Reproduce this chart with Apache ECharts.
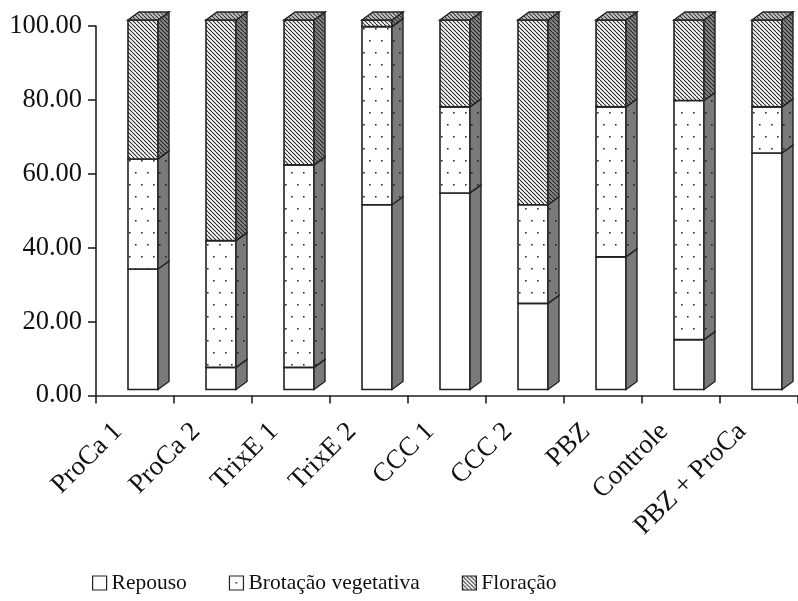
<!DOCTYPE html>
<html>
<head>
<meta charset="utf-8">
<script src="https://cdn.jsdelivr.net/npm/echarts@6/dist/echarts.min.js"></script>
<style>html,body{margin:0;padding:0;background:#fff;}#c{width:798px;height:601px;}</style>
</head>
<body>
<div id="c"></div>
<script>
const categories = ['ProCa 1','ProCa 2','TrixE 1','TrixE 2','CCC 1','CCC 2','PBZ','Controle','PBZ + ProCa'];
const repouso  = [32.6, 6.0, 6.0, 50.0, 53.2, 23.3, 35.9, 13.5, 64.0];
const brotacao = [29.8, 34.3, 54.8, 48.2, 23.3, 26.7, 40.6, 64.7, 12.5];
const floracao = [37.6, 59.7, 39.2, 1.8, 23.5, 50.0, 23.5, 21.8, 23.5];
const seriesNames = ['Repouso', 'Brotação vegetativa', 'Floração'];
const yTicks = [0, 20, 40, 60, 80, 100];

const FONT = 'Liberation Serif';

function makePattern(w, h, bg, draw) {
  const c = document.createElement('canvas');
  c.width = w; c.height = h;
  const ctx = c.getContext('2d');
  ctx.fillStyle = bg; ctx.fillRect(0, 0, w, h);
  draw(ctx);
  return { image: c, repeat: 'repeat' };
}
function dots(bg, fg) {
  return makePattern(12, 24, bg, ctx => {
    ctx.fillStyle = fg;
    ctx.fillRect(3, 4, 1.6, 1.6);
    ctx.fillRect(9, 16, 1.6, 1.6);
  });
}
function hatch(bg, fg, s, lw) {
  return makePattern(s, s, bg, ctx => {
    ctx.strokeStyle = fg; ctx.lineWidth = lw;
    for (let k = -1; k <= 1; k++) {
      ctx.beginPath(); ctx.moveTo(k * s, 0); ctx.lineTo(k * s + s, s); ctx.stroke();
    }
  });
}

const fronts = ['#ffffff', dots('#ffffff', '#333333'), hatch('#ffffff', '#2a2a2a', 4, 1.1)];
const sides  = ['#7a7a7a', dots('#7a7a7a', '#222222'), hatch('#8a8a8a', '#2a2a2a', 4, 1.2)];
const topFace = hatch('#c4c4c4', '#3a3a3a', 4, 1.1);
const legendFills = ['#ffffff', makePattern(14, 14, '#ffffff', ctx => { ctx.fillStyle = '#333'; ctx.fillRect(6, 6, 1.6, 1.6); }), hatch('#ffffff', '#2a2a2a', 4, 1.1)];

const FL = -7, FR = 23, DX = 11, DY = 8, OFFY = -6;
const STROKE = '#222';

function buildData(si) {
  const arrs = [repouso, brotacao, floracao];
  return categories.map((c, i) => {
    let base = 0;
    for (let k = 0; k < si; k++) base += arrs[k][i];
    return [i, base, base + arrs[si][i]];
  });
}

function makeRender(si) {
  return function (params, api) {
    const i = api.value(0), lo = api.value(1), hi = api.value(2);
    const p0 = api.coord([i, lo]), p1 = api.coord([i, hi]);
    const cx = p0[0];
    const yb = p0[1] + OFFY, yt = p1[1] + OFFY;
    const xl = cx + FL, xr = cx + FR;
    const children = [
      { type: 'polygon', shape: { points: [[xl, yb], [xr, yb], [xr, yt], [xl, yt]] },
        style: { fill: fronts[si], stroke: STROKE, lineWidth: 1.6 } },
      { type: 'polygon', shape: { points: [[xr, yb], [xr + DX, yb - DY], [xr + DX, yt - DY], [xr, yt]] },
        style: { fill: sides[si], stroke: STROKE, lineWidth: 1.4 } }
    ];
    if (si === 2) {
      children.push({ type: 'polygon', shape: { points: [[xl, yt], [xr, yt], [xr + DX, yt - DY], [xl + DX, yt - DY]] },
        style: { fill: topFace, stroke: STROKE, lineWidth: 1.4 } });
    }
    return { type: 'group', children };
  };
}

const chart = echarts.init(document.getElementById('c'), null, { renderer: 'canvas' });
chart.setOption({
  animation: false,
  backgroundColor: '#fff',
  grid: { left: 96, top: 26, width: 707, height: 369.5 },
  legend: {
    left: 92, top: 572, itemWidth: 14, itemHeight: 14, itemGap: 42, padding: 0,
    textStyle: { fontFamily: FONT, fontSize: 21.5, color: '#111' },
    data: seriesNames.map((n, k) => ({ name: n, icon: 'rect', itemStyle: { color: legendFills[k], borderColor: STROKE, borderWidth: 1.2 } }))
  },
  xAxis: {
    type: 'category', data: categories, boundaryGap: true,
    axisLine: { lineStyle: { color: '#222', width: 1.6 } },
    axisTick: { show: true, length: 8, lineStyle: { color: '#222', width: 1.6 } },
    axisLabel: { rotate: 45, margin: 15, padding: [0, 24, 0, 0], fontFamily: FONT, fontSize: 27, color: '#111', interval: 0 }
  },
  yAxis: {
    type: 'value', min: 0, max: 100, interval: 20,
    splitLine: { show: false },
    axisLine: { show: true, lineStyle: { color: '#222', width: 1.6 } },
    axisTick: { show: true, length: 8, lineStyle: { color: '#222', width: 1.6 } },
    axisLabel: { margin: 14, fontFamily: FONT, fontSize: 26.5, color: '#111',
      formatter: v => yTicks.indexOf(v) >= 0 ? v.toFixed(2) : '' }
  },
  series: seriesNames.map((n, si) => ({
    name: n, type: 'custom',
    renderItem: makeRender(si),
    encode: { x: 0, y: [1, 2] },
    itemStyle: { color: legendFills[si], borderColor: STROKE },
    data: buildData(si)
  }))
});
</script>
</body>
</html>
